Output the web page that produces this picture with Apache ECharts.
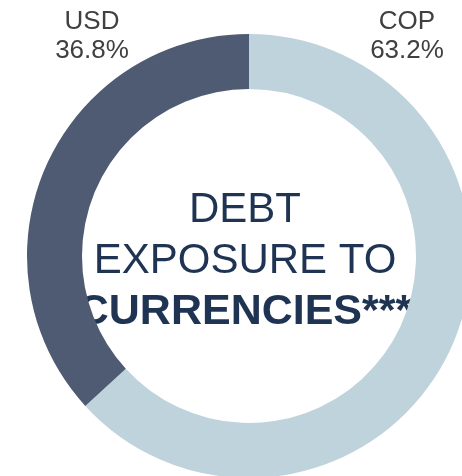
<!DOCTYPE html>
<html>
<head>
<meta charset="utf-8">
<script src="https://cdn.jsdelivr.net/npm/echarts@6/dist/echarts.min.js"></script>
<style>
html,body{margin:0;padding:0;background:#fff;}
#chart{width:462px;height:476px;}
</style>
</head>
<body>
<div id="chart"></div>
<script>
const categories = ['COP', 'USD'];
const shares = [63.2, 36.8];
const sliceColors = ['#bfd3dd', '#4f5b72'];
const centerLines = ['DEBT', 'EXPOSURE TO', 'CURRENCIES***'];

const chart = echarts.init(document.getElementById('chart'), null, {renderer: 'canvas'});
const labelPos = [{x: 407, y: 7}, {x: 92, y: 7}];

chart.setOption({
  animation: false,
  backgroundColor: '#ffffff',
  series: [{
    type: 'pie',
    center: [249, 256],
    radius: [167, 222],
    startAngle: 90,
    clockwise: true,
    silent: true,
    avoidLabelOverlap: false,
    data: categories.map((c, i) => ({name: c, value: shares[i], itemStyle: {color: sliceColors[i]}})),
    label: {
      show: true,
      position: 'inside',
      formatter: p => p.name + '\n' + p.value.toFixed(1) + '%',
      fontFamily: 'Liberation Sans, Arial, sans-serif',
      fontSize: 26,
      lineHeight: 29,
      color: '#404040'
    },
    labelLine: {show: false},
    labelLayout: function (params) {
      const pos = labelPos[params.dataIndex];
      return {x: pos.x, y: pos.y, align: 'center', verticalAlign: 'top'};
    }
  }],
  graphic: [{
    type: 'text',
    x: 245,
    y: 261,
    style: {
      text: centerLines[0] + '\n' + centerLines[1] + '\n{b|' + centerLines[2] + '}',
      fontFamily: 'Liberation Sans, Arial, sans-serif',
      fontSize: 42,
      lineHeight: 51,
      fill: '#1f3352',
      align: 'center',
      verticalAlign: 'middle',
      rich: {
        b: {fontWeight: 'bold', fontSize: 43, lineHeight: 51, fill: '#1f3352', fontFamily: 'Liberation Sans, Arial, sans-serif'}
      }
    }
  }]
});
</script>
</body>
</html>
